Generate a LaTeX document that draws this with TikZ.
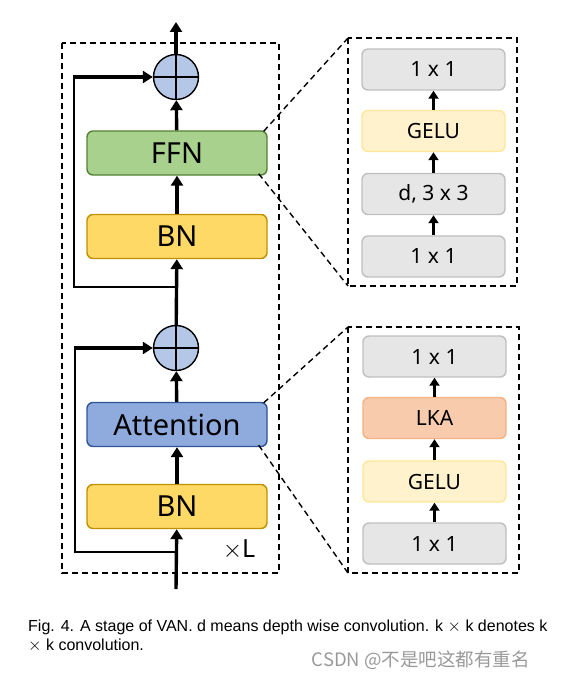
\documentclass[tikz,border=0pt]{standalone}
\usepackage{fontspec}
\setmainfont{Liberation Sans}
\newfontfamily\boxfont{Noto Sans}
\newfontfamily\cjkfont{Noto Sans CJK SC}
\usetikzlibrary{arrows.meta}
\definecolor{ffnfill}{HTML}{A9D18E}\definecolor{ffndraw}{HTML}{548235}
\definecolor{bnfill}{HTML}{FFD966}\definecolor{bndraw}{HTML}{BF9000}
\definecolor{attfill}{HTML}{8FAADC}\definecolor{attdraw}{HTML}{2F5597}
\definecolor{addfill}{HTML}{B4C7E7}
\definecolor{grayfill}{HTML}{E7E6E6}\definecolor{graydraw}{HTML}{BFBFBF}
\definecolor{gelufill}{HTML}{FFF2CC}\definecolor{geludraw}{HTML}{FFE699}
\definecolor{lkafill}{HTML}{F8CBAD}\definecolor{lkadraw}{HTML}{F4B183}
\tikzset{
  mainbox/.style={rounded corners=6pt, line width=1.4pt, minimum width=180pt, minimum height=44pt, inner sep=0pt, font=\boxfont\fontsize{29}{31}\selectfont},
  subbox/.style={rounded corners=6pt, line width=1.4pt, minimum width=143pt, minimum height=41pt, inner sep=0pt, font=\boxfont\fontsize{21}{23}\selectfont},
  addnode/.style={circle, draw, line width=1.4pt, fill=addfill, minimum size=45pt, inner sep=0pt},
  bigarrow/.style={line width=3.4pt, -{Triangle[length=10pt,width=12pt]}},
  smallarrow/.style={line width=3.2pt, -{Triangle[length=8pt,width=10pt]}},
  skipline/.style={line width=1.8pt},
  dashbox/.style={line width=1.4pt, dash pattern=on 6pt off 4pt},
}
\begin{document}
\begin{tikzpicture}[x=1pt,y=-1pt]
\useasboundingbox (0,0) rectangle (568,679);
% outer dashed boxes
\draw[dashbox] (62,43) rectangle (279,573);
\draw[dashbox] (348,38) rectangle (517,286);
\draw[dashbox] (348,327) rectangle (519,573);
% main column
\node[mainbox, draw=ffndraw, fill=ffnfill] (ffn) at (177,153) {FFN};
\node[mainbox, draw=bndraw, fill=bnfill] (bn1) at (177,236.5) {BN};
\node[mainbox, draw=attdraw, fill=attfill] (att) at (177,424.5) {Attention};
\node[mainbox, draw=bndraw, fill=bnfill] (bn2) at (177,506.5) {BN};
\node[addnode] (add1) at (176,77) {};
\node[addnode] (add2) at (176,348) {};
\draw[line width=1.4pt] (add1.north) -- (add1.south) (add1.west) -- (add1.east);
\draw[line width=1.4pt] (add2.north) -- (add2.south) (add2.west) -- (add2.east);
\coordinate (top) at (176,22);
\coordinate (in) at (176,589);
\coordinate (br1) at (176,287);
\coordinate (br2) at (176,552);
\draw[bigarrow] (in) -- (bn2);
\draw[bigarrow] (bn2) -- (att);
\draw[bigarrow] (att) -- (add2);
\draw[bigarrow] (add2) -- (bn1);
\draw[bigarrow] (bn1) -- (ffn);
\draw[bigarrow] (ffn) -- (add1);
\draw[bigarrow] (add1) -- (top);
\draw[skipline] (br1) -- (74,287) -- (74,77);
\draw[bigarrow] (73.1,77) -- (add1.west);
\draw[skipline] (br2) -- (75,552) -- (75,348);
\draw[bigarrow] (74.1,348) -- (add2.west);
\node[font=\boxfont\fontsize{25}{27}\selectfont, anchor=center] (xl) at (239,550) {$\times$L};
% FFN detail
\node[subbox, draw=graydraw, fill=grayfill] (f1) at (433.5,256.5) {1 x 1};
\node[subbox, draw=graydraw, fill=grayfill] (f2) at (433.5,194) {d, 3 x 3};
\node[subbox, draw=geludraw, fill=gelufill] (f3) at (433.5,131) {GELU};
\node[subbox, draw=graydraw, fill=grayfill] (f4) at (433.5,69.5) {1 x 1};
\draw[smallarrow] (f1) -- (f2);
\draw[smallarrow] (f2) -- (f3);
\draw[smallarrow] (f3) -- (f4);
% Attention detail
\node[subbox, draw=graydraw, fill=grayfill] (a1) at (434.5,543.5) {1 x 1};
\node[subbox, draw=geludraw, fill=gelufill] (a2) at (434.5,481.5) {GELU};
\node[subbox, draw=lkadraw, fill=lkafill] (a3) at (434.5,418) {LKA};
\node[subbox, draw=graydraw, fill=grayfill] (a4) at (434.5,356.5) {1 x 1};
\draw[smallarrow] (a1) -- (a2);
\draw[smallarrow] (a2) -- (a3);
\draw[smallarrow] (a3) -- (a4);
% zoom lines
\draw[dashbox] (ffn.north east) ++(-4,1) -- (348,38);
\draw[dashbox] (ffn.south east) ++(-9,-2) -- (348,286);
\draw[dashbox] (att.north east) ++(-4,1) -- (348,327);
\draw[dashbox] (att.south east) ++(-9,-2) -- (348,573);
% caption
\node[anchor=north west, font=\fontsize{16}{19}\selectfont, inner sep=0pt, align=left] (cap) at (28,620)
  {Fig. 4. A stage of VAN. d means depth wise convolution. k $\times$ k denotes k\\$\times$ k convolution.};
\node[anchor=east, font=\cjkfont\fontsize{18.5}{20}\selectfont, text=black!40, inner sep=0pt] (wm) at (530,660) {CSDN @不是吧这都有重名};
\end{tikzpicture}
\end{document}
